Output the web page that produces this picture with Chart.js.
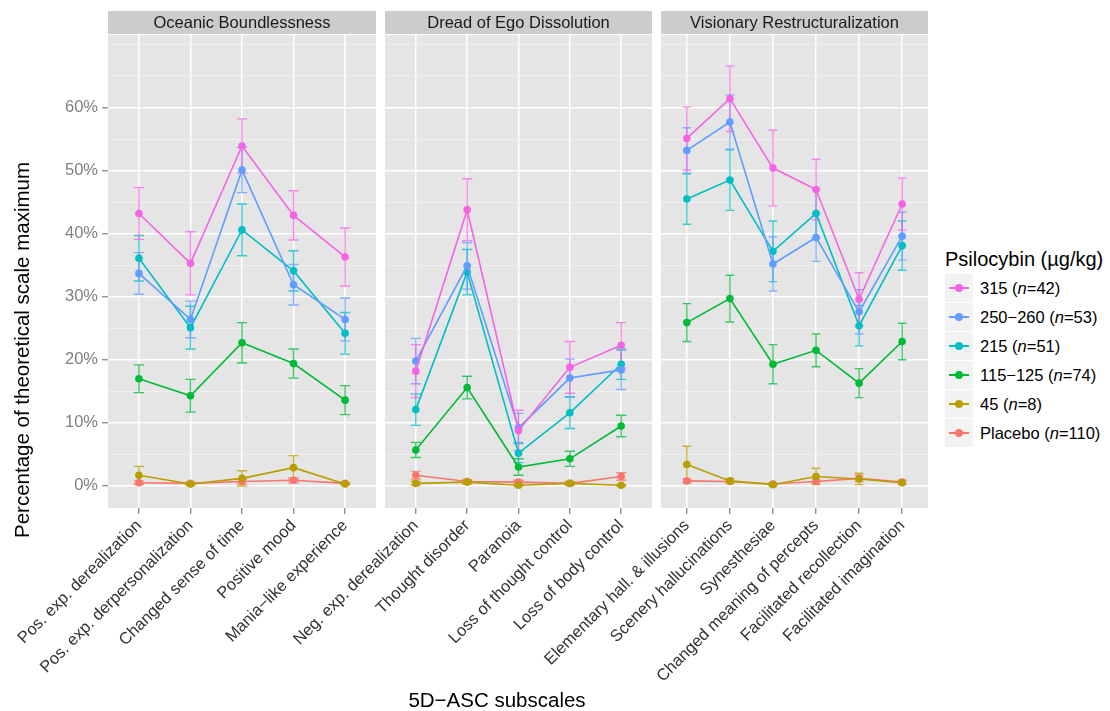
<!DOCTYPE html>
<html>
<head>
<meta charset="utf-8">
<script src="https://cdn.jsdelivr.net/npm/chart.js@4.4.1/dist/chart.umd.min.js"></script>
<style>
	body { margin: 0; background: #fff; font-family: "Liberation Sans", Arial, sans-serif; }
	#wrap { position: relative; width: 1110px; height: 711px; overflow: hidden; }
	canvas { position: absolute; left: 0; top: 0; }
	#ytitle { position: absolute; left: 22px; top: 350px; transform: translate(-50%, -50%) rotate(-90deg); font-size: 20.5px; white-space: nowrap; color: #000; }
	#xtitle { position: absolute; left: 497px; top: 700px; transform: translate(-50%, -50%); font-size: 20.5px; white-space: nowrap; color: #000; }
	#legend { position: absolute; left: 945px; top: 245px; color: #000; }
	#legend .ltitle { font-size: 20px; height: 29px; line-height: 29px; white-space: nowrap; }
	#legend .row { height: 29px; display: flex; align-items: center; }
	#legend .key { position: relative; width: 28px; height: 28px; background: #f2f2f2; margin-bottom: 1px; }
	#legend .key .ln { position: absolute; left: 4px; right: 4px; top: 13px; height: 1.6px; }
	#legend .key .dot { position: absolute; left: 10px; top: 10px; width: 8px; height: 8px; border-radius: 50%; }
	#legend .txt { font-size: 16.5px; margin-left: 7px; white-space: nowrap; }
</style>
</head>
<body>
<div id="wrap">
	<canvas id="c1" width="380" height="711"></canvas>
	<canvas id="c2" width="656" height="711"></canvas>
	<canvas id="c3" width="932" height="711"></canvas>
	<div id="ytitle">Percentage of theoretical scale maximum</div>
	<div id="xtitle">5D−ASC subscales</div>
	<div id="legend"></div>
</div>
<script>
// facets and their subscales
const panelTitles = ["Oceanic Boundlessness", "Dread of Ego Dissolution", "Visionary Restructuralization"];
const oceanicCats = ["Pos. exp. derealization", "Pos. exp. derpersonalization", "Changed sense of time", "Positive mood", "Mania−like experience"];
const dreadCats = ["Neg. exp. derealization", "Thought disorder", "Paranoia", "Loss of thought control", "Loss of body control"];
const visionaryCats = ["Elementary hall. & illusions", "Scenery hallucinations", "Synesthesiae", "Changed meaning of percepts", "Facilitated recollection", "Facilitated imagination"];

// dose groups (legend order)
const doseLabels = ["315", "250−260", "215", "115−125", "45", "Placebo"];
const groupN = [42, 53, 51, 74, 8, 110];
const doseColors = ["#F564E3", "#619CFF", "#00BFC4", "#00BA38", "#B79F00", "#F8766D"];

// % of scale maximum, 16 subscales in facet order (5 + 5 + 6)
const mean315 = [43.2, 35.3, 53.9, 42.9, 36.3, 18.2, 43.8, 8.8, 18.8, 22.3, 55.1, 61.4, 50.4, 47.0, 29.6, 44.7];
const err315 = [4.1, 5.0, 4.3, 3.9, 4.6, 4.2, 4.9, 3.2, 4.1, 3.6, 5.0, 5.2, 6.0, 4.8, 4.2, 4.1];
const mean250 = [33.7, 26.4, 50.1, 31.9, 26.4, 19.8, 34.9, 9.2, 17.1, 18.4, 53.2, 57.7, 35.2, 39.4, 27.6, 39.6];
const err250 = [3.3, 2.9, 3.6, 3.2, 3.4, 3.6, 3.7, 2.3, 3.0, 3.1, 3.6, 4.3, 4.3, 3.8, 3.5, 3.8];
const mean215 = [36.1, 25.1, 40.6, 34.1, 24.2, 12.1, 33.9, 5.2, 11.6, 19.3, 45.5, 48.5, 37.2, 43.2, 25.4, 38.1];
const err215 = [3.6, 3.4, 4.1, 3.2, 3.3, 2.5, 3.6, 1.5, 2.5, 2.4, 4.0, 4.8, 4.8, 3.9, 3.2, 3.9];
const mean115 = [17.0, 14.3, 22.7, 19.4, 13.6, 5.7, 15.6, 3.0, 4.3, 9.5, 25.9, 29.7, 19.3, 21.5, 16.3, 22.9];
const err115 = [2.2, 2.6, 3.2, 2.3, 2.3, 1.2, 1.8, 1.3, 1.2, 1.7, 3.0, 3.7, 3.1, 2.6, 2.3, 2.9];
const mean45 = [1.7, 0.3, 1.2, 2.9, 0.3, 0.4, 0.6, 0.1, 0.4, 0.1, 3.4, 0.8, 0.2, 1.5, 1.1, 0.5];
const err45 = [1.4, 0.2, 1.2, 1.9, 0.1, 0.3, 0.3, 0.1, 0.3, 0.1, 2.9, 0.4, 0.2, 1.3, 0.9, 0.3];
const meanPlacebo = [0.5, 0.4, 0.7, 0.9, 0.4, 1.7, 0.7, 0.6, 0.4, 1.5, 0.8, 0.7, 0.3, 0.7, 1.2, 0.6];
const errPlacebo = [0.3, 0.2, 0.4, 0.4, 0.2, 0.6, 0.3, 0.3, 0.2, 0.6, 0.3, 0.3, 0.2, 0.3, 0.5, 0.3];

// y axis breaks
const yMajorTicks = [0, 10, 20, 30, 40, 50, 60];
const yMinorTicks = [5, 15, 25, 35, 45, 55, 65, 70];

const seriesMeans = [mean315, mean250, mean215, mean115, mean45, meanPlacebo];
const seriesErrs = [err315, err250, err215, err115, err45, errPlacebo];
const panelCats = [oceanicCats, dreadCats, visionaryCats];

const FONT = "'Liberation Sans', Arial, sans-serif";
Chart.defaults.font.family = FONT;

function colorToRGBA(hex, alpha = 1) {
	const r = parseInt(hex.slice(1, 3), 16);
	const g = parseInt(hex.slice(3, 5), 16);
	const b = parseInt(hex.slice(5, 7), 16);
	return `rgba(${r}, ${g}, ${b}, ${alpha})`;
}

function panelSlice(arr, p) {
	let start = 0;
	for (let k = 0; k < p; k++) start += panelCats[k].length;
	return arr.slice(start, start + panelCats[p].length);
}

// grey panel + strip header
const facetPlugin = {
	id: 'facet'
	, beforeDraw(chart, args, opts) {
		const { ctx, chartArea: a } = chart;
		ctx.save();
		ctx.fillStyle = "#e5e5e5";
		ctx.fillRect(a.left, a.top, a.right - a.left, a.bottom - a.top);
		ctx.fillStyle = "#cccccc";
		ctx.fillRect(a.left, 11, a.right - a.left, 23);
		ctx.fillStyle = "#1a1a1a";
		ctx.font = "16.5px " + FONT;
		ctx.textAlign = "center";
		ctx.textBaseline = "middle";
		ctx.fillText(opts.text, (a.left + a.right) / 2, 23);
		ctx.restore();
	}
};

const errorBarPlugin = {
	id: 'errorBars'
	, beforeDatasetsDraw(chart) {
		const { ctx, scales: { x, y } } = chart;
		const half = Math.abs(x.getPixelForValue(0.1) - x.getPixelForValue(0));
		ctx.save();
		for (let d = chart.data.datasets.length - 1; d >= 0; d--) {
			const ds = chart.data.datasets[d];
			ctx.strokeStyle = colorToRGBA(ds.borderColor, 0.75);
			ctx.lineWidth = 1.4;
			ds.data.forEach((p, j) => {
				const px = x.getPixelForValue(p.x);
				const top = y.getPixelForValue(p.y + ds.errors[j]);
				const bot = y.getPixelForValue(p.y - ds.errors[j]);
				ctx.beginPath();
				ctx.moveTo(px, top); ctx.lineTo(px, bot);
				ctx.moveTo(px - half, top); ctx.lineTo(px + half, top);
				ctx.moveTo(px - half, bot); ctx.lineTo(px + half, bot);
				ctx.stroke();
			});
		}
		ctx.restore();
	}
};

const isMajor = v => yMajorTicks.includes(v);

function makePanel(p, canvasId, leftEdge, showY) {
	const cats = panelCats[p];
	const datasets = doseLabels.map((lab, s) => ({
		label: lab
		, data: panelSlice(seriesMeans[s], p).map((v, i) => ({ x: i, y: v }))
		, errors: panelSlice(seriesErrs[s], p)
		, borderColor: doseColors[s]
		, backgroundColor: doseColors[s]
		, pointBackgroundColor: doseColors[s]
		, pointBorderWidth: 0
		, pointRadius: 3.8
		, borderWidth: 1.6
		, tension: 0
	}));

	return new Chart(document.getElementById(canvasId), {
		type: "line"
		, data: { datasets }
		, plugins: [facetPlugin, errorBarPlugin]
		, options: {
			responsive: false
			, animation: false
			, events: []
			, layout: { padding: { top: 35, left: 0, right: 0, bottom: 0 } }
			, plugins: {
				legend: { display: false }
				, tooltip: { enabled: false }
				, facet: { text: panelTitles[p] }
			}
			, scales: {
				x: {
					type: "linear"
					, min: -0.6
					, max: cats.length - 0.4
					, afterBuildTicks: s => { s.ticks = cats.map((c, i) => ({ value: i })); }
					, afterFit: s => { s.height = 203; s.paddingLeft = 0; s.paddingRight = 0; }
					, border: { display: false }
					, grid: {
						color: "#ffffff"
						, lineWidth: 1.5
						, tickColor: "#7f7f7f"
						, tickLength: 6
						, tickWidth: 1.2
					}
					, ticks: {
						autoSkip: false
						, minRotation: 45
						, maxRotation: 45
						, padding: 2
						, color: "#333333"
						, font: { size: 16.5 }
						, callback: v => cats[v]
					}
				}
				, y: {
					min: -3.5
					, max: 71.5
					, afterBuildTicks: s => { s.ticks = yMajorTicks.concat(yMinorTicks).sort((a, b) => a - b).map(v => ({ value: v })); }
					, afterFit: s => { s.width = leftEdge; s.paddingTop = 0; s.paddingBottom = 0; }
					, border: { display: false }
					, grid: {
						color: c => isMajor(c.tick.value) ? "#ffffff" : "#f2f2f2"
						, lineWidth: c => isMajor(c.tick.value) ? 1.5 : 0.8
						, drawTicks: showY
						, tickLength: 6
						, tickWidth: 1.2
						, tickColor: c => isMajor(c.tick.value) ? "#7f7f7f" : "rgba(0,0,0,0)"
					}
					, ticks: {
						display: showY
						, autoSkip: false
						, padding: 4
						, color: "#7f7f7f"
						, font: { size: 16.5 }
						, callback: v => isMajor(v) ? v + "%" : ""
					}
				}
			}
		}
	});
}

makePanel(0, "c1", 108, true);
makePanel(1, "c2", 385, false);
makePanel(2, "c3", 661, false);

// legend
const legend = document.getElementById("legend");
let html = '<div class="ltitle">Psilocybin (µg/kg)</div>';
doseLabels.forEach((lab, s) => {
	const n = groupN[s];
	html += '<div class="row"><div class="key">'
		+ '<div class="ln" style="background:' + doseColors[s] + '"></div>'
		+ '<div class="dot" style="background:' + doseColors[s] + '"></div></div>'
		+ '<div class="txt">' + lab + ' (<i>n</i>=' + n + ')</div></div>';
});
legend.innerHTML = html;
</script>
</body>
</html>
